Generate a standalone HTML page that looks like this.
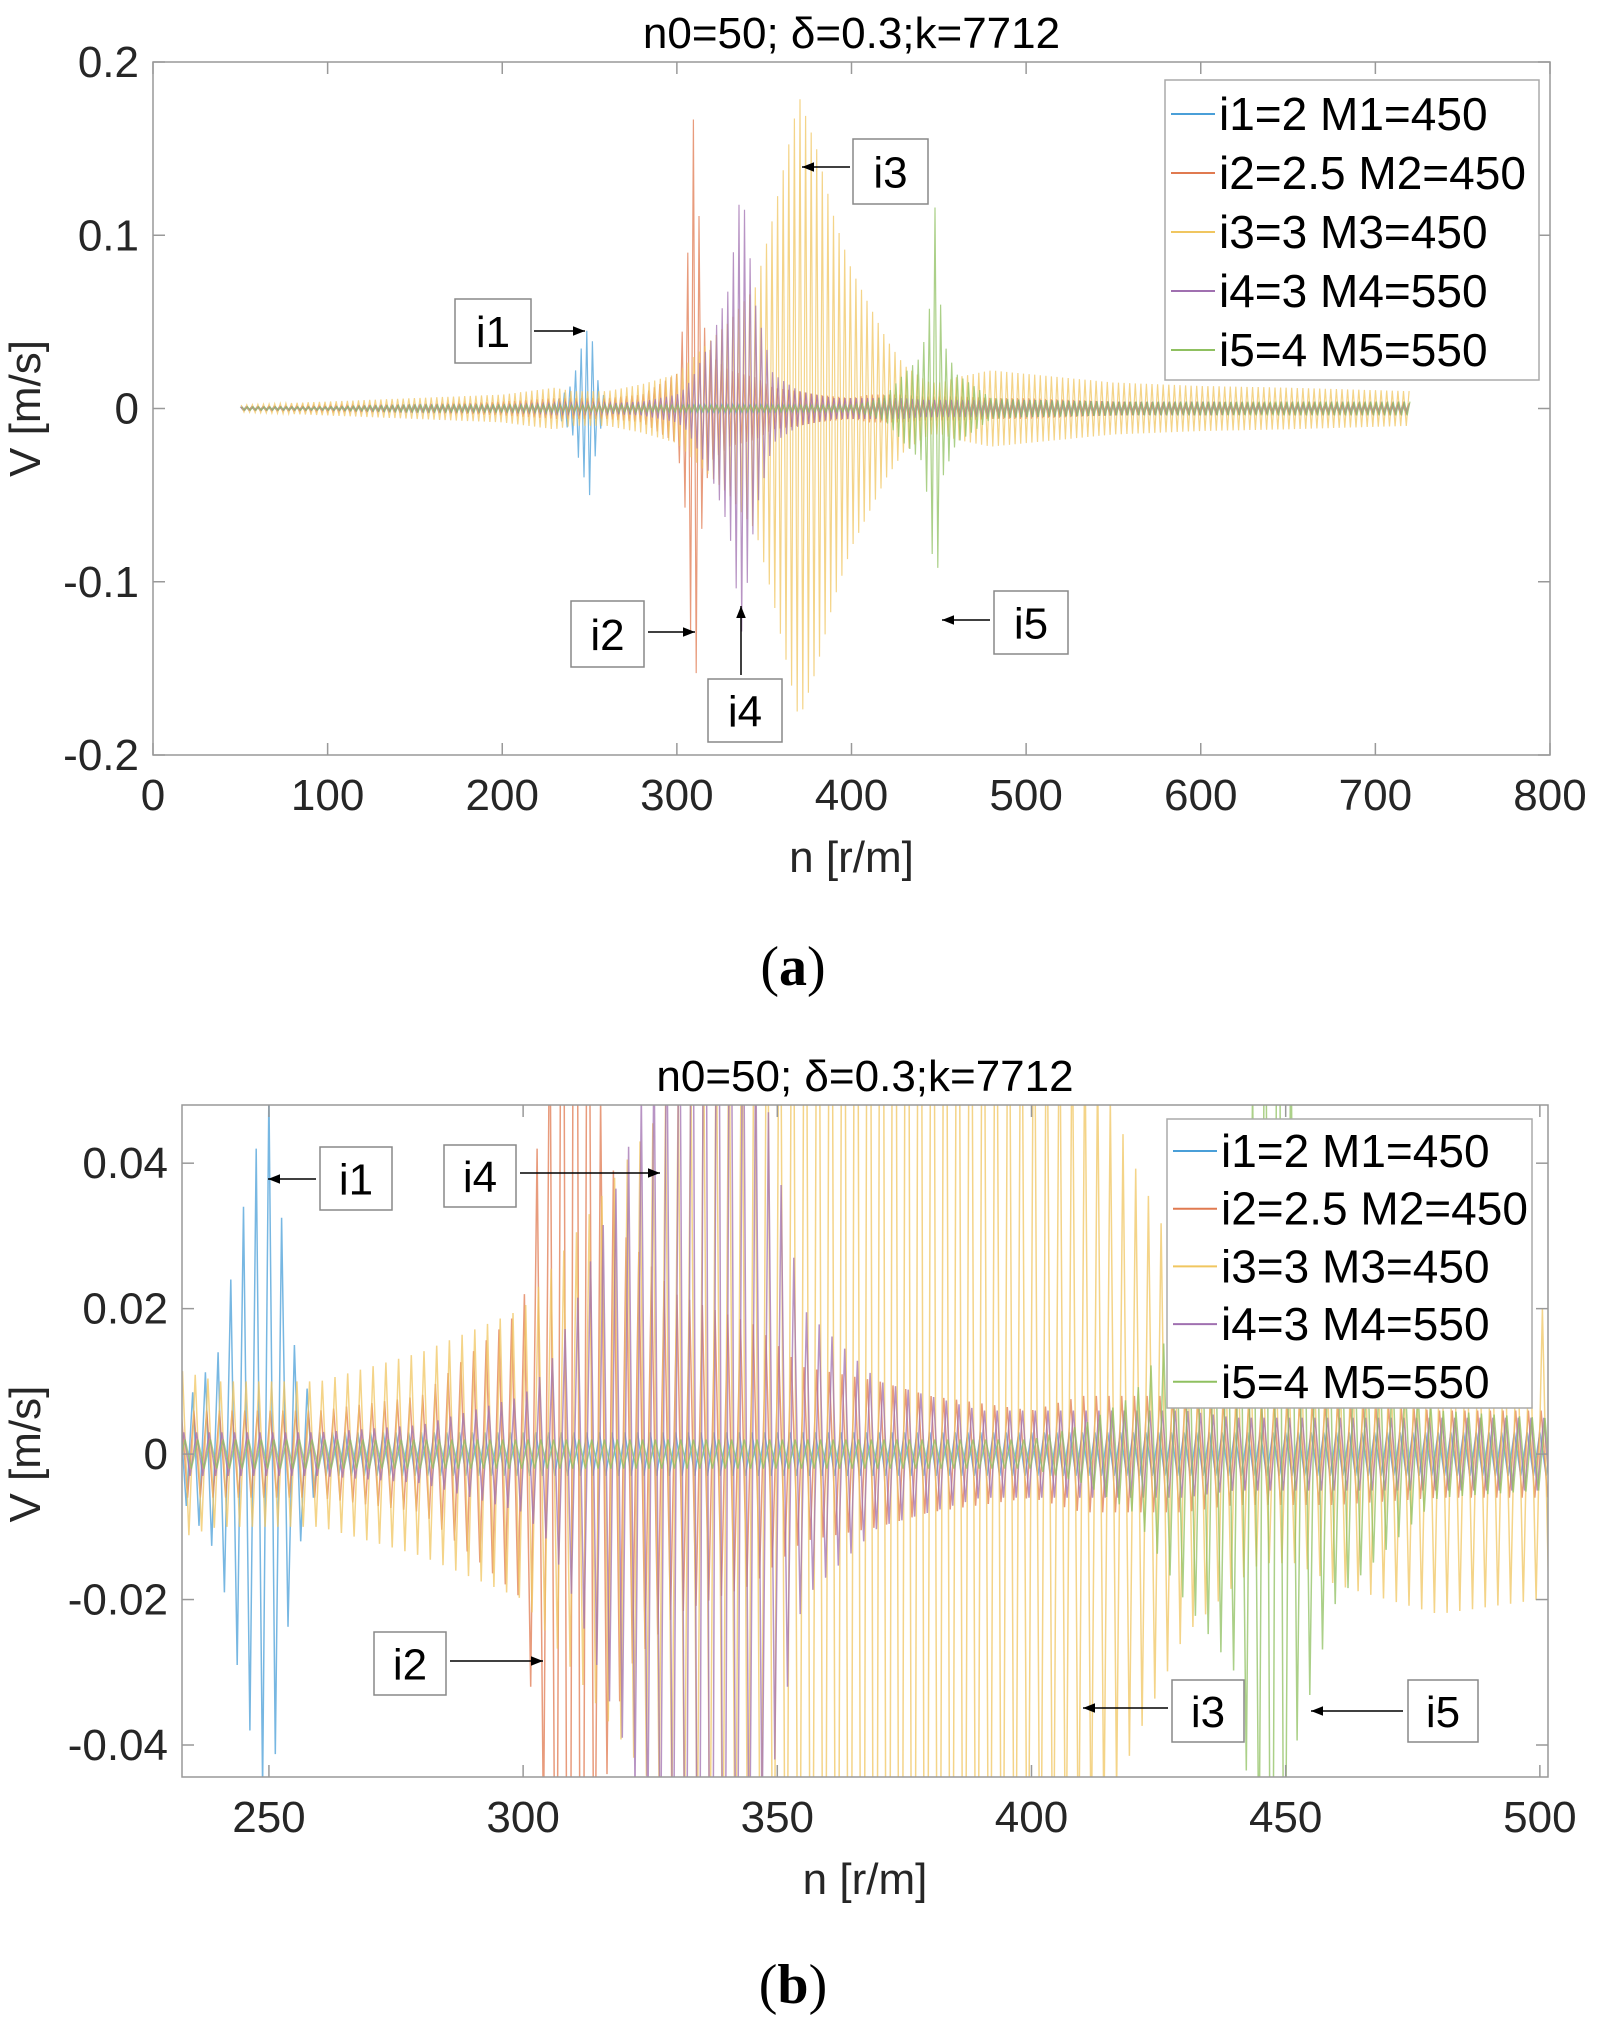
<!DOCTYPE html>
<html><head><meta charset="utf-8"><style>
html,body{margin:0;padding:0;background:#fff;overflow:hidden;width:1604px;height:2035px;}
svg{display:block;font-family:"Liberation Sans",Arial,sans-serif;}
</style></head><body>
<svg id="svg" width="1604" height="2035" viewBox="0 0 1604 2035">
<defs>
<clipPath id="clipA"><rect x="153" y="62" width="1397" height="693"/></clipPath>
<clipPath id="clipB"><rect x="182" y="1105" width="1366" height="672"/></clipPath>
<marker id="arr" viewBox="0 0 10 10" refX="10" refY="5" markerWidth="8" markerHeight="8" orient="auto"><path d="M0,1 L10,5 L0,9 z" fill="#000"/></marker>
</defs>
<g id="chartA"></g>
<g id="chartB"></g>
<text x="793" y="985" font-family="Liberation Serif,serif" font-size="56" text-anchor="middle">(<tspan font-weight="bold">a</tspan>)</text>
<text x="793" y="2003" font-family="Liberation Serif,serif" font-size="56" text-anchor="middle">(<tspan font-weight="bold">b</tspan>)</text>
</svg>
<script>
const knots=[50,100,150,200,230,240,245,250,255,260,280,300,305,310,315,320,330,337,345,355,370,380,390,400,410,420,430,440,445,448,452,460,480,500,550,600,650,720];
const ampI1=[0.001,0.001,0.002,0.002,0.003,0.014,0.034,0.05,0.015,0.003,0.003,0.003,0.003,0.003,0.003,0.003,0.003,0.003,0.003,0.003,0.003,0.003,0.003,0.003,0.003,0.003,0.003,0.003,0.003,0.003,0.003,0.003,0.003,0.003,0.002,0.002,0.002,0.002];
const ampI2=[0.001,0.002,0.002,0.004,0.006,0.006,0.006,0.006,0.006,0.006,0.008,0.02,0.06,0.18,0.05,0.03,0.022,0.02,0.018,0.012,0.01,0.008,0.007,0.006,0.008,0.008,0.008,0.007,0.007,0.007,0.007,0.007,0.006,0.006,0.004,0.003,0.003,0.003];
const ampI3=[0.002,0.004,0.006,0.008,0.012,0.01,0.01,0.01,0.01,0.01,0.014,0.02,0.025,0.03,0.035,0.04,0.05,0.06,0.07,0.11,0.18,0.15,0.11,0.08,0.06,0.04,0.025,0.018,0.015,0.015,0.015,0.018,0.022,0.02,0.015,0.013,0.012,0.01];
const ampI4=[0.001,0.001,0.002,0.002,0.003,0.003,0.003,0.003,0.003,0.003,0.004,0.008,0.012,0.02,0.03,0.04,0.07,0.13,0.06,0.02,0.01,0.008,0.006,0.006,0.006,0.006,0.006,0.005,0.005,0.005,0.005,0.005,0.005,0.005,0.004,0.004,0.003,0.003];
const ampI5=[0.001,0.001,0.002,0.002,0.002,0.002,0.002,0.002,0.002,0.002,0.002,0.002,0.002,0.002,0.002,0.002,0.002,0.002,0.002,0.002,0.002,0.002,0.002,0.002,0.004,0.008,0.02,0.03,0.06,0.12,0.04,0.02,0.006,0.005,0.004,0.004,0.004,0.004];
const seriesNames=["i1=2 M1=450","i2=2.5 M2=450","i3=3 M3=450","i4=3 M4=550","i5=4 M5=550"];
const seriesAmps=[ampI1,ampI2,ampI3,ampI4,ampI5];
const seriesColors=["#4a9fd8","#e07a50","#f0c660","#a070b0","#8fc060"];
const xTicksA=[0,100,200,300,400,500,600,700,800];
const yTicksA=[-0.2,-0.1,0,0.1,0.2];
const yTickLabelsA=["-0.2","-0.1","0","0.1","0.2"];
const xTicksB=[250,300,350,400,450,500];
const yTicksB=[-0.04,-0.02,0,0.02,0.04];
const yTickLabelsB=["-0.04","-0.02","0","0.02","0.04"];

const NS="http://www.w3.org/2000/svg";
function mk(tag,attrs,parent){const e=document.createElementNS(NS,tag);for(const k in attrs)e.setAttribute(k,attrs[k]);parent.appendChild(e);return e;}
function env(amp,n){if(n<=knots[0])return amp[0];for(let i=1;i<knots.length;i++){if(n<=knots[i]){const t=(n-knots[i-1])/(knots[i]-knots[i-1]);return amp[i-1]+t*(amp[i]-amp[i-1]);}}return amp[amp.length-1];}

function drawChart(g,cfg){
  const X=v=>cfg.x0+(v-cfg.xmin)/(cfg.xmax-cfg.xmin)*(cfg.x1-cfg.x0);
  const Y=v=>cfg.y1-(v-cfg.ymin)/(cfg.ymax-cfg.ymin)*(cfg.y1-cfg.y0);
  const data=mk('g',{'clip-path':cfg.clip},g);
  
  
  seriesAmps.forEach((amp,si)=>{
    let d='';let k=0;
    for(let n=50+si*0.25;n<=720;n+=cfg.step,k++){
      const s=(k%2===0)?1:-1;
      const v=s*env(amp,n);
      d+=(d?'L':'M')+X(n).toFixed(1)+','+Y(v).toFixed(1);
    }
    const p=mk('path',{d:d,fill:'none',stroke:seriesColors[si],'stroke-width':cfg.sw,'stroke-opacity':0.75},data);
    
    
  });
  const box=mk('rect',{x:cfg.x0,y:cfg.y0,width:cfg.x1-cfg.x0,height:cfg.y1-cfg.y0,fill:'none',stroke:'#999','stroke-width':1.5},g);
  
  
  cfg.xt.forEach(v=>{
    const x=X(v);
    mk('line',{x1:x,x2:x,y1:cfg.y1,y2:cfg.y1-12,stroke:'#999','stroke-width':1.5},g);
    mk('line',{x1:x,x2:x,y1:cfg.y0,y2:cfg.y0+12,stroke:'#999','stroke-width':1.5},g);
    const t=mk('text',{x:x,y:cfg.y1+55,'font-size':44,'text-anchor':'middle',fill:'#262626'},g);
    t.textContent=String(v);
    
    
  });
  cfg.yt.forEach((v,i)=>{
    const y=Y(v);
    mk('line',{x1:cfg.x0,x2:cfg.x0+12,y1:y,y2:y,stroke:'#999','stroke-width':1.5},g);
    mk('line',{x1:cfg.x1,x2:cfg.x1-12,y1:y,y2:y,stroke:'#999','stroke-width':1.5},g);
    const t=mk('text',{x:cfg.x0-14,y:y+15,'font-size':44,'text-anchor':'end',fill:'#262626'},g);
    t.textContent=cfg.ytl[i];
    
    
  });
  const ti=mk('text',{x:(cfg.x0+cfg.x1)/2,y:cfg.y0-14,'font-size':44,'text-anchor':'middle',fill:'#000'},g);
  ti.textContent='n0=50; δ=0.3;k=7712';
  
  
  const xl=mk('text',{x:(cfg.x0+cfg.x1)/2,y:cfg.y1+117,'font-size':44,'text-anchor':'middle',fill:'#262626'},g);
  xl.textContent='n [r/m]';
  
  
  const yc=Y(0);
  const yl=mk('text',{x:0,y:0,'font-size':44,'text-anchor':'middle',fill:'#262626',transform:'translate('+cfg.ylx+','+yc+') rotate(-90)'},g);
  yl.textContent='V [m/s]';
  
  
  const L=cfg.leg;
  const lg=mk('g',{},g);
  
  
  mk('rect',{x:L.x,y:L.y,width:L.w,height:L.h,fill:'#fff',stroke:'#aaa','stroke-width':1.5},lg);
  seriesNames.forEach((nm,i)=>{
    const yy=L.ey+i*L.dy;
    mk('line',{x1:L.x+6,x2:L.x+50,y1:yy,y2:yy,stroke:seriesColors[i],'stroke-width':2},lg);
    const t=mk('text',{x:L.x+54,y:yy+16,'font-size':46,fill:'#000'},lg);
    t.textContent=nm;
    
    
  });
  cfg.ann.forEach(a=>{
    const ag=mk('g',{},g);
    
    
    mk('rect',{x:a.bx,y:a.by,width:a.bw,height:a.bh,fill:'#fff',stroke:'#888','stroke-width':1.5},ag);
    const t=mk('text',{x:a.bx+a.bw/2,y:a.by+a.bh/2+16,'font-size':44,'text-anchor':'middle',fill:'#000'},ag);
    t.textContent=a.t;
    mk('line',{x1:a.ax1,y1:a.ay1,x2:a.ax2,y2:a.ay2,stroke:'#000','stroke-width':1.5,'marker-end':'url(#arr)'},ag);
  });
}
drawChart(document.getElementById('chartA'),{x0:153,x1:1550,y0:62,y1:755,xmin:0,xmax:800,ymin:-0.2,ymax:0.2,clip:'url(#clipA)',sw:1.2,step:1.6,
  xt:xTicksA,yt:yTicksA,ytl:yTickLabelsA,ylx:40,
  leg:{x:1165,y:80,w:374,h:300,ey:114,dy:59},
  ann:[{t:'i1',bx:455,by:299,bw:76,bh:64,ax1:534,ay1:331,ax2:585,ay2:331},
       {t:'i3',bx:853,by:139,bw:75,bh:65,ax1:850,ay1:167,ax2:802,ay2:167},
       {t:'i2',bx:571,by:601,bw:73,bh:66,ax1:648,ay1:632,ax2:695,ay2:632},
       {t:'i4',bx:708,by:679,bw:74,bh:63,ax1:741,ay1:675,ax2:741,ay2:606},
       {t:'i5',bx:994,by:591,bw:74,bh:63,ax1:990,ay1:620,ax2:942,ay2:620}]});
drawChart(document.getElementById('chartB'),{x0:182,x1:1548,y0:1105,y1:1777,xmin:232.9,xmax:501.6,ymin:-0.0444,ymax:0.048,clip:'url(#clipB)',sw:1.5,step:1.25,
  xt:xTicksB,yt:yTicksB,ytl:yTickLabelsB,ylx:40,
  leg:{x:1167,y:1119,w:365,h:289,ey:1151,dy:57.7},
  ann:[{t:'i1',bx:320,by:1147,bw:72,bh:63,ax1:316,ay1:1179,ax2:268,ay2:1179},
       {t:'i4',bx:444,by:1145,bw:72,bh:62,ax1:520,ay1:1173,ax2:660,ay2:1173},
       {t:'i2',bx:374,by:1632,bw:72,bh:63,ax1:450,ay1:1661,ax2:543,ay2:1661},
       {t:'i3',bx:1172,by:1680,bw:72,bh:62,ax1:1168,ay1:1708,ax2:1083,ay2:1708},
       {t:'i5',bx:1408,by:1680,bw:70,bh:62,ax1:1403,ay1:1711,ax2:1311,ay2:1711}]});
</script>
</body></html>
